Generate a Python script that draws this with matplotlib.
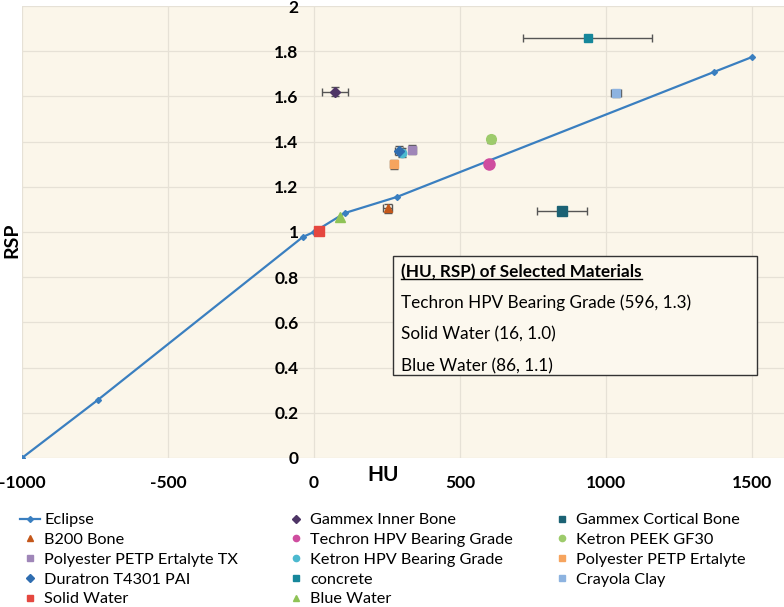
import numpy as np
import matplotlib
matplotlib.use("Agg")
import matplotlib.pyplot as plt
from matplotlib.lines import Line2D
from matplotlib.patches import Rectangle

plt.rcParams['font.family'] = ['Lato', 'DejaVu Sans']
plt.rcParams['axes.unicode_minus'] = False

# Eclipse calibration curve (HU -> RSP)
eclipse_hu = [-1000, -740, -38, 0, 106, 284, 1370, 1500]
eclipse_rsp = [0.0, 0.257, 0.978, 1.0, 1.084, 1.155, 1.708, 1.774]

# measured materials: name, HU, RSP, HU error, RSP error
names = ["Gammex Inner Bone", "Gammex Cortical Bone", "B200 Bone",
         "Techron HPV Bearing Grade", "Ketron PEEK GF30",
         "Polyester PETP Ertalyte TX", "Ketron HPV Bearing Grade",
         "Polyester PETP Ertalyte", "Duratron T4301 PAI", "concrete",
         "Crayola Clay", "Solid Water", "Blue Water"]
hu = [72, 849, 253, 599, 606, 336, 301, 274, 291, 938, 1034, 16, 89]
rsp = [1.62, 1.093, 1.106, 1.30, 1.41, 1.363, 1.35, 1.30, 1.36, 1.86, 1.614, 1.004, 1.066]
hu_err = [46, 86, 15, 8, 5, 12, 10, 12, 14, 221, 17, 0, 0]
rsp_err = [0.02, 0.015, 0.02, 0.01, 0.015, 0.02, 0.02, 0.02, 0.02, 0.0, 0.015, 0.0, 0.0]
colors = ["#4E3566", "#1B6274", "#C4571A", "#CF4D9F", "#9DCB6B", "#9F86B8",
          "#4CB9CF", "#F6A45E", "#2F6DB0", "#16879B", "#8DB3E0", "#E5473F", "#8FC356"]
markers = ["D", "s", "^", "o", "o", "s", "o", "s", "D", "s", "s", "s", "^"]
sizes = [5, 7, 6, 8, 7, 6, 6, 6, 5.5, 6, 5.5, 7.5, 6.5]

# selected materials shown in the box
box_title = "(HU, RSP) of Selected Materials"
box_lines = ["Techron HPV Bearing Grade (596, 1.3)",
             "Solid Water (16, 1.0)",
             "Blue Water (86, 1.1)"]

# legend columns, read row by row in the original
legend_cols = [
    ["Eclipse", "B200 Bone", "Polyester PETP Ertalyte TX", "Duratron T4301 PAI", "Solid Water"],
    ["Gammex Inner Bone", "Techron HPV Bearing Grade", "Ketron HPV Bearing Grade",
     "concrete", "Blue Water"],
    ["Gammex Cortical Bone", "Ketron PEEK GF30", "Polyester PETP Ertalyte", "Crayola Clay"],
]

fig = plt.figure(figsize=(7.84, 6.07), dpi=100)
ax = fig.add_axes([0.028, 0.2455, 0.972, 0.7446])
ax.set_facecolor("#FBF6EA")

ax.plot(eclipse_hu, eclipse_rsp, color="#3A7FC0", lw=1.6, marker="D",
        ms=3, zorder=3)

for i, n in enumerate(names):
    if hu_err[i] or rsp_err[i]:
        ax.errorbar(hu[i], rsp[i], xerr=hu_err[i], yerr=rsp_err[i], fmt="none",
                    ecolor="#555555", elinewidth=1, capsize=3, zorder=4)
    ax.plot(hu[i], rsp[i], linestyle="none", marker=markers[i], ms=sizes[i],
            color=colors[i], zorder=5)

ax.set_xlim(-1000, 1610)
ax.set_ylim(0, 2)
ax.set_xticks([-1000, -500, 0, 500, 1000, 1500])
ax.set_yticks(np.arange(0, 2.01, 0.2))
ax.set_yticklabels(["0", "0.2", "0.4", "0.6", "0.8", "1", "1.2", "1.4", "1.6", "1.8", "2"])
ax.grid(True, color="#E6E1D6", lw=0.9)
ax.set_axisbelow(True)
for s in ax.spines.values():
    s.set_visible(False)
ax.spines['left'].set_position(('data', 0))
ax.tick_params(length=0)
ax.tick_params(axis="y", pad=11)
ax.tick_params(axis="x", pad=12)
for lab in ax.get_xticklabels() + ax.get_yticklabels():
    lab.set_fontweight("bold")
    lab.set_fontsize(12.5)

fig.text(383 / 784, 1 - 475 / 607, "HU", fontsize=15, fontweight="bold",
         ha="center", va="center")
fig.text(12 / 784, 1 - 240 / 607, "RSP", fontsize=14, fontweight="bold",
         ha="center", va="center", rotation=90)

# text box
fig.patches.append(Rectangle((393 / 784, 1 - 375 / 607), (757 - 393) / 784,
                             (375 - 256) / 607, transform=fig.transFigure,
                             facecolor="#FCF8EE", edgecolor="#333333", lw=1, zorder=6))
t = fig.text(401 / 784, 1 - 272 / 607, box_title, fontsize=12.3, fontweight="bold",
             va="center", zorder=7)
for k, line in enumerate(box_lines):
    fig.text(401 / 784, 1 - (303 + 31.5 * k) / 607, line, fontsize=12.3,
             va="center", zorder=7)
fig.canvas.draw()
bb = t.get_window_extent().transformed(fig.transFigure.inverted())
fig.add_artist(Line2D([bb.x0, bb.x1], [bb.y0 + 0.002, bb.y0 + 0.002],
                      transform=fig.transFigure, color="black", lw=1, zorder=7))

# legend: three single-column legends with equal spacing like Excel
col_x = [20, 286, 552]
for cx, col in zip(col_x, legend_cols):
    hs = []
    for n in col:
        if n == "Eclipse":
            hs.append(Line2D([], [], color="#3A7FC0", lw=1.6, marker="D", ms=3))
        else:
            i = names.index(n)
            hs.append(Line2D([], [], linestyle="none", marker=markers[i], ms=4.5,
                             color=colors[i]))
    fig.legend(hs, col, loc="upper left", bbox_to_anchor=(cx / 784, 1 - 513 / 607),
               frameon=False, fontsize=11.7, handlelength=1.25, handletextpad=0.25,
               borderpad=0, borderaxespad=0, labelspacing=0.33)

fig.savefig("out.png", dpi=100)
